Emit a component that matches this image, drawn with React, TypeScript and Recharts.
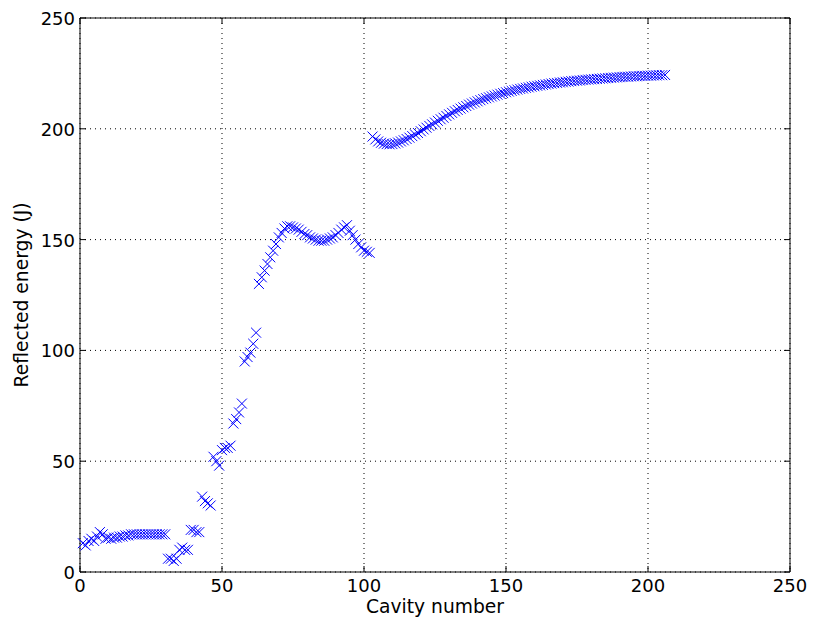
import React from "react";
import {
  ScatterChart,
  Scatter,
  XAxis,
  YAxis,
  CartesianGrid,
  ReferenceArea,
} from "recharts";

// cavity 1..30, flat low part
const energyA = [
  13, 12, 14, 15, 14, 16, 18, 17, 15, 15.5, 15, 15.5, 15.5, 16, 16, 16.5, 16.5,
  17, 17, 17, 17, 17, 17, 17, 17, 17, 17, 17, 17, 17,
];
// cavity 31..62, ramp up
const energyB = [
  6, 6, 5, 6, 10, 11, 10, 10, 19, 19, 18, 18, 34, 32, 31, 30, 52, 50, 48, 55,
  56, 56, 57, 67, 69, 72, 76, 95, 97, 99, 103, 108,
];
// cavity 63..102, double hump
const energyC = [
  130, 133, 136, 139, 142, 145, 148, 151, 153, 155, 156, 156, 155.5, 155,
  154.5, 153.5, 152.5, 152, 151, 150.5, 150, 149.5, 149.5, 149.5, 150, 150.5,
  151, 152, 153, 154.5, 155.5, 156.5, 154, 152, 150, 148, 146.5, 145, 144.5,
  144,
];
// cavity 103..206, saturating tail
const energyD = [
  196.5, 195.2, 194.3, 193.7, 193.3, 193.1, 193.0, 193.1, 193.4, 193.8, 194.3,
  194.8, 195.4, 196.0, 196.7, 197.4, 198.1, 198.9, 199.7, 200.5, 201.3, 202.0,
  202.8, 203.6, 204.3, 205.0, 205.8, 206.5, 207.2, 207.9, 208.5, 209.1, 209.7,
  210.3, 210.9, 211.4, 211.9, 212.4, 212.9, 213.4, 213.8, 214.2, 214.6, 215.0,
  215.4, 215.8, 216.1, 216.5, 216.8, 217.1, 217.4, 217.7, 218.0, 218.2, 218.5,
  218.7, 219.0, 219.2, 219.4, 219.6, 219.8, 220.0, 220.2, 220.4, 220.6, 220.7,
  220.9, 221.0, 221.2, 221.3, 221.5, 221.6, 221.7, 221.8, 222.0, 222.1, 222.2,
  222.3, 222.4, 222.5, 222.6, 222.7, 222.8, 222.9, 223.0, 223.1, 223.2, 223.3,
  223.4, 223.5, 223.5, 223.6, 223.7, 223.7, 223.8, 223.9, 223.9, 224.0, 224.0,
  224.1, 224.1, 224.2, 224.2, 224.3,
];
const segmentStarts = [1, 31, 63, 103];

const xTicks = [0, 50, 100, 150, 200, 250];
const yTicks = [0, 50, 100, 150, 200, 250];

const FONT = "DejaVu Sans, sans-serif";
const BLUE = "#0000ff";
const TICK_FS = 18;
const LABEL_FS = 18.7;

// plot box (matches chart margins below)
const LEFT = 80;
const RIGHT = 790;
const TOP = 18;
const BOTTOM = 572;

const data = [energyA, energyB, energyC, energyD].flatMap((arr, s) =>
  arr.map((e, i) => ({ x: segmentStarts[s] + i, y: e }))
);

function XTick(props: any) {
  const { x, payload } = props;
  return (
    <g>
      <line x1={x} x2={x} y1={BOTTOM} y2={BOTTOM - 6} stroke="#000" />
      <line x1={x} x2={x} y1={TOP} y2={TOP + 6} stroke="#000" />
      <text x={x} y={BOTTOM + 20} textAnchor="middle" fontSize={TICK_FS} fontFamily={FONT} fill="#000">
        {payload.value}
      </text>
    </g>
  );
}

function YTick(props: any) {
  const { y, payload } = props;
  return (
    <g>
      <line x1={LEFT} x2={LEFT + 6} y1={y} y2={y} stroke="#000" />
      <line x1={RIGHT} x2={RIGHT - 6} y1={y} y2={y} stroke="#000" />
      <text x={LEFT - 5} y={y + 7} textAnchor="end" fontSize={TICK_FS} fontFamily={FONT} fill="#000">
        {payload.value}
      </text>
    </g>
  );
}

function Cross(props: any) {
  const { cx, cy } = props;
  const r = 5;
  return (
    <path
      d={`M${cx - r},${cy - r}L${cx + r},${cy + r}M${cx + r},${cy - r}L${cx - r},${cy + r}`}
      stroke={BLUE}
      strokeWidth={1}
      fill="none"
    />
  );
}

const xTitle = () => (
  <text x={(LEFT + RIGHT) / 2} y={613} textAnchor="middle" fontSize={LABEL_FS} fontFamily={FONT} fill="#000">
    Cavity number
  </text>
);

const yMid = (TOP + BOTTOM) / 2;
const yTitle = () => (
  <text
    x={28}
    y={yMid}
    textAnchor="middle"
    fontSize={LABEL_FS}
    fontFamily={FONT}
    fill="#000"
    transform={`rotate(-90 28 ${yMid})`}
  >
    Reflected energy (J)
  </text>
);

export default function App() {
  return (
    <div style={{ position: "absolute", left: 0, top: 0, width: 814, height: 625, background: "#fff" }}>
      <ScatterChart
        width={814}
        height={625}
        margin={{ top: TOP, right: 814 - RIGHT, bottom: 0, left: 0 }}
      >
        <CartesianGrid stroke="#000" strokeDasharray="1 4" />
        <XAxis
          type="number"
          dataKey="x"
          domain={[0, 250]}
          ticks={xTicks}
          height={625 - BOTTOM}
          axisLine={false}
          tickLine={false}
          tickSize={0}
          tick={<XTick />}
          label={xTitle}
        />
        <YAxis
          type="number"
          dataKey="y"
          domain={[0, 250]}
          ticks={yTicks}
          width={LEFT}
          axisLine={false}
          tickLine={false}
          tickSize={0}
          tick={<YTick />}
          label={yTitle}
        />
        <ReferenceArea x1={0} x2={250} y1={0} y2={250} fill="none" stroke="#000" strokeWidth={1} />
        <Scatter data={data} shape={<Cross />} isAnimationActive={false} />
      </ScatterChart>
    </div>
  );
}
